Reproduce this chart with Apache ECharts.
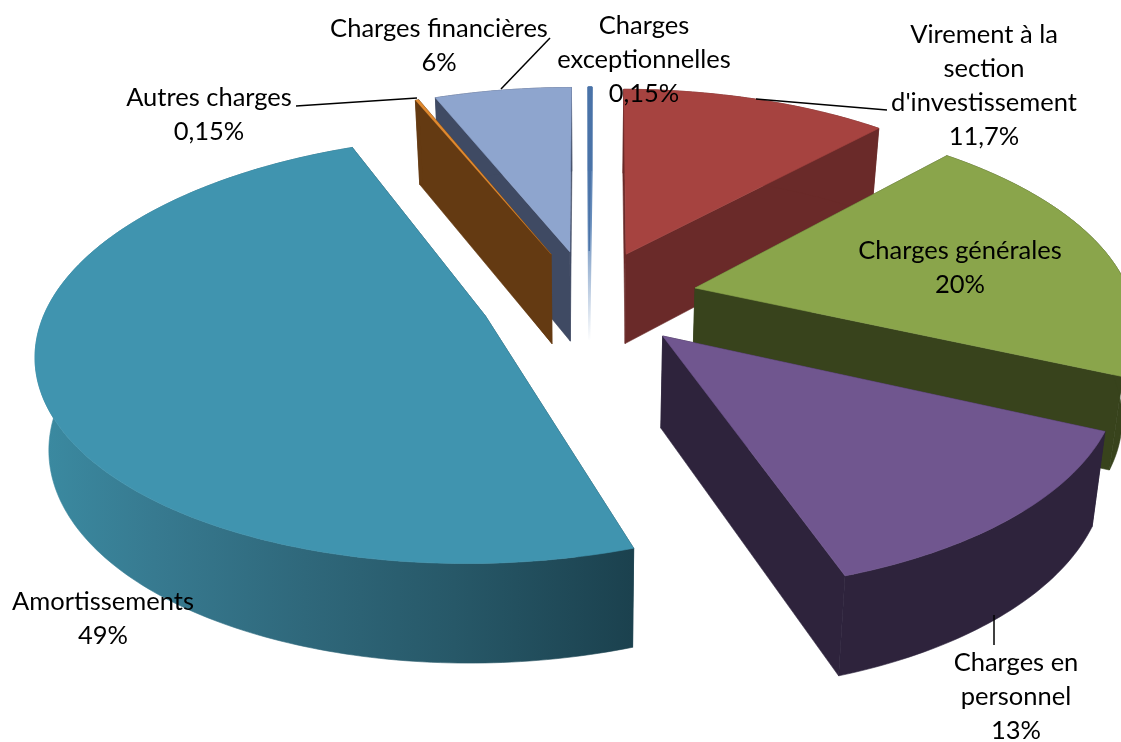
<!DOCTYPE html>
<html>
<head>
<meta charset="utf-8">
<style>html,body{margin:0;padding:0;background:#fff}#main{width:1121px;height:742px}</style>
<script src="https://cdn.jsdelivr.net/npm/echarts@6/dist/echarts.min.js"></script>
</head>
<body>
<div id="main"></div>
<script>
// slices, clockwise from the top of the pie
var categories = ["Virement à la\nsection\nd'investissement", 'Charges générales', 'Charges en\npersonnel', 'Amortissements', 'Autres charges', 'Charges financières', 'Charges\nexceptionnelles'];
var shares = [11.7, 20, 13, 49, 0.15, 6, 0.15];
var shareLabels = ['11,7%', '20%', '13%', '49%', '0,15%', '6%', '0,15%'];

var topColors = ['#a64340', '#8aa54b', '#70568f', '#4094af', '#e0892f', '#8ea5ce', '#4a73a8'];
var sideColors = ['#6a2a29', '#38431c', '#2e233c', '#1b414e', '#643a12', '#3f4a63', '#4a73a8'];
var paintOrder = [6, 0, 5, 4, 1, 2, 3];  // back to front
var sliceExplode = [0.24, 0.25, 0.245, 0.25, 0.24, 0.24, 0.24];
var labelCenters = [[984, 86], [960, 268], [1016, 697], [103, 619], [209, 115], [439, 46], [644, 60]];
var leaderLines = [[756, 99, 887, 110], [994, 615, 994, 645], [296, 106, 417, 98], [501, 89, 550, 38]];

// projection of the tilted pie
var cx = 589, cy = 298, R = 436, tilt = 203, persp = 0.155, startDeg = 0.4;

function project(x, y) {
    var s = 1 / (1 - persp * y);
    return [cx + R * x * s, cy + tilt * y * s];
}
// same point on the bottom face
function drop(p) {
    return [cx + (p[0] - cx) * 0.975, p[1] * 1.033 + 81];
}

var total = shares.reduce(function (a, b) { return a + b; }, 0);

function renderSlice(params, api) {
    var i = params.dataIndex;
    var before = 0;
    for (var k = 0; k < i; k++) before += shares[k];
    var a0 = startDeg + before / total * 360;
    var a1 = a0 + api.value(0) / total * 360;
    var mid = (a0 + a1) / 2 * Math.PI / 180;
    var ox = sliceExplode[i] * Math.sin(mid), oy = -sliceExplode[i] * Math.cos(mid);

    var apex = project(ox, oy);
    var arc = [];
    var steps = Math.max(2, Math.ceil(a1 - a0));
    for (var n = 0; n <= steps; n++) {
        var t = (a0 + (a1 - a0) * n / steps) * Math.PI / 180;
        arc.push(project(ox + Math.sin(t), oy - Math.cos(t)));
    }
    var arcBottom = arc.map(drop).reverse();
    var first = arc[0], last = arc[arc.length - 1];

    var wallFill = sideColors[i];
    var edgeFill = sideColors[i];
    var sliver = i === 6;
    if (i === 3) {
        wallFill = {
            type: 'linear', x: 0, y: 0, x2: 1, y2: 0,
            colorStops: [
                {offset: 0, color: '#3b8ba2'},
                {offset: 0.2, color: '#377a90'},
                {offset: 0.45, color: '#2f687b'},
                {offset: 0.7, color: '#275868'},
                {offset: 1, color: '#1b414e'}
            ]
        };
    }
    if (sliver) {
        edgeFill = {
            type: 'linear', x: 0, y: 0, x2: 0, y2: 1,
            colorStops: [
                {offset: 0, color: '#4a73a8'},
                {offset: 0.55, color: '#6a8fbd'},
                {offset: 1, color: '#ffffff'}
            ]
        };
    }
    var z = paintOrder.indexOf(i) * 10;
    var poly = function (points, fill, extra, lw) {
        return {
            type: 'polygon',
            z2: z + extra,
            shape: {points: points},
            style: {fill: fill, stroke: fill, lineWidth: lw === undefined ? 0.6 : lw}
        };
    };
    var children = [
        poly([apex, first, drop(first), drop(apex)], edgeFill, 0, sliver ? 2 : 0.6),
        poly([apex, last, drop(last), drop(apex)], edgeFill, 0, sliver ? 2 : 0.6),
        poly(arc.concat(arcBottom), wallFill, 1),
        poly([apex].concat(arc), topColors[i], 2, sliver ? 1 : (i === 4 ? 0.2 : 0.6))
    ];
    return {type: 'group', children: children};
}

var chart = echarts.init(document.getElementById('main'));
var textElements = categories.map(function (name, i) {
    return {
        type: 'text',
        z: 100,
        x: labelCenters[i][0],
        y: labelCenters[i][1],
        style: {
            text: name + '\n' + shareLabels[i],
            font: '25.5px Lato',
            fill: '#000',
            align: 'center',
            verticalAlign: 'middle',
            lineHeight: 34
        }
    };
});
var lineElements = leaderLines.map(function (l) {
    return {
        type: 'line',
        z: 100,
        shape: {x1: l[0], y1: l[1], x2: l[2], y2: l[3]},
        style: {stroke: '#000', lineWidth: 1.5}
    };
});

chart.setOption({
    animation: false,
    backgroundColor: '#fff',
    graphic: {elements: lineElements.concat(textElements)},
    series: [{
        type: 'custom',
        coordinateSystem: 'none',
        renderItem: renderSlice,
        data: shares.map(function (v) { return [v]; })
    }]
});
</script>
</body>
</html>
